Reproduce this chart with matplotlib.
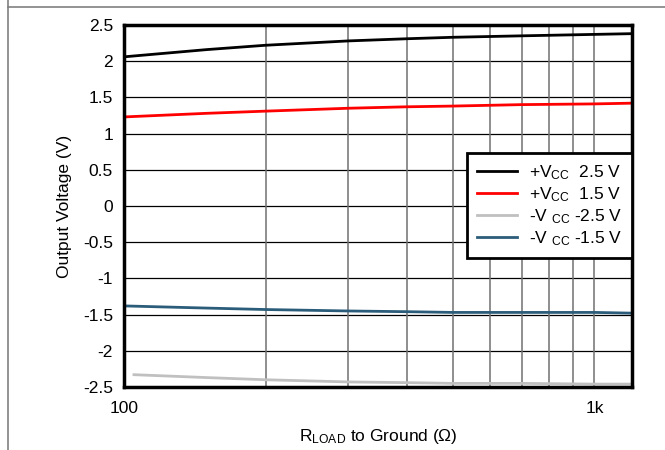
from matplotlib import pyplot as plt
from matplotlib.lines import Line2D
import numpy as np

# values (load resistance in ohm, output in V)
r_load = [100, 150, 200, 300, 400, 500, 700, 1000, 1200]
v_pos_25 = [2.06, 2.16, 2.22, 2.28, 2.31, 2.33, 2.35, 2.37, 2.38]
v_pos_15 = [1.23, 1.28, 1.31, 1.35, 1.37, 1.38, 1.40, 1.41, 1.42]
r_load_neg25 = [105, 150, 200, 300, 400, 500, 700, 1000, 1200]
v_neg_25 = [-2.33, -2.37, -2.40, -2.43, -2.44, -2.45, -2.45, -2.46, -2.46]
v_neg_15 = [-1.38, -1.41, -1.43, -1.45, -1.46, -1.47, -1.47, -1.47, -1.48]

labels = [
    r"+V$_{\mathrm{CC}}$  2.5 V",
    r"+V$_{\mathrm{CC}}$  1.5 V",
    r"-V $_{\mathrm{CC}}$ -2.5 V",
    r"-V $_{\mathrm{CC}}$ -1.5 V",
]
colors = ["black", "#ff0000", "#c0c0c0", "#2b5d7a"]
y_ticks = [2.5, 2, 1.5, 1, 0.5, 0, -0.5, -1, -1.5, -2, -2.5]
fs = 12.5

plt.rcParams["font.family"] = ["Liberation Sans", "DejaVu Sans"]
plt.rcParams["mathtext.fontset"] = "custom"
plt.rcParams["mathtext.rm"] = "Liberation Sans"
plt.rcParams["mathtext.it"] = "Liberation Sans"

fig = plt.figure(figsize=(6.65, 4.5), dpi=100)
ax = fig.add_axes([0.1865, 0.14, 0.7635, 0.8045])

series = [
    (r_load, v_pos_25),
    (r_load, v_pos_15),
    (r_load_neg25, v_neg_25),
    (r_load, v_neg_15),
]
for (xs, ys), c in zip(series, colors):
    ax.plot(xs, ys, color=c, lw=2, zorder=3)

ax.set_xscale("log")
ax.set_xlim(100, 1200)
ax.set_ylim(-2.5, 2.5)
ax.set_yticks(y_ticks)
ax.set_yticklabels([f"{v:g}" for v in y_ticks])
ax.set_xticks([100, 1000])
ax.set_xticklabels(["100", "1k"])
ax.xaxis.set_minor_locator(plt.NullLocator())
ax.tick_params(axis="y", length=0, labelsize=fs, pad=8)
ax.tick_params(axis="x", length=0, labelsize=fs, pad=10)

for y in y_ticks[1:-1]:
    ax.axhline(y, color="black", lw=0.9, zorder=1)
for x in [200, 300, 400, 500, 600, 700, 800, 900, 1000]:
    ax.axvline(x, color="#707070", lw=1.1, zorder=1)

for s in ax.spines.values():
    s.set_linewidth(2.5)
    s.set_zorder(4)

ax.set_xlabel(r"R$_{\mathrm{LOAD}}$ to Ground ($\Omega$)", fontsize=fs, labelpad=8)
ax.set_ylabel("Output Voltage (V)", fontsize=fs, labelpad=8)

handles = [Line2D([0], [0], color=c, lw=2) for c in colors]
leg = ax.legend(
    handles, labels, loc="upper right", bbox_to_anchor=(1.0, 0.645),
    borderaxespad=0, fontsize=fs, frameon=True, fancybox=False,
    handlelength=2.3, handletextpad=0.7, labelspacing=0.2, borderpad=0.55,
)
leg.get_frame().set_edgecolor("black")
leg.get_frame().set_linewidth(2)
leg.get_frame().set_alpha(1)
leg.set_zorder(5)

# page frame lines seen in the reference
fig.add_artist(Line2D([8 / 665, 8 / 665], [0, 1], color="#808080", lw=1.2))
fig.add_artist(Line2D([8 / 665, 1], [1 - 7 / 450, 1 - 7 / 450], color="#808080", lw=1.2))

fig.savefig("out.png", dpi=100)
